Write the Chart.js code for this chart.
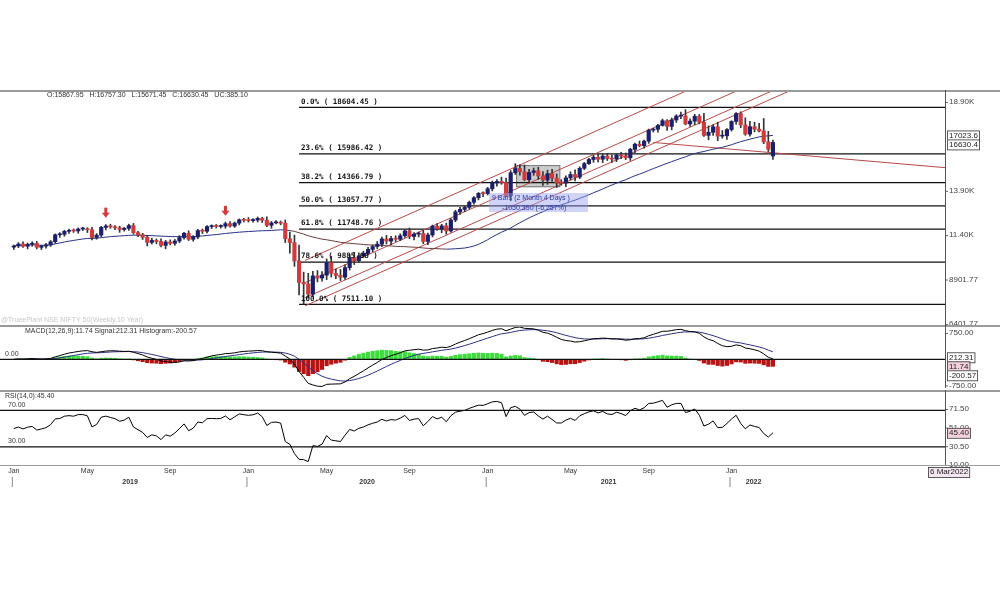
<!DOCTYPE html>
<html>
<head>
<meta charset="utf-8">
<script src="https://cdn.jsdelivr.net/npm/chart.js@4.4.0/dist/chart.umd.min.js"></script>
<style>
  body { margin: 0; background: #fff; width: 1000px; height: 600px; overflow: hidden; position: relative; }
  canvas { position: absolute; left: 0; }
</style>
</head>
<body>
<canvas id="main" width="1000" height="235" style="top:90px"></canvas>
<canvas id="macd" width="1000" height="63" style="top:325px"></canvas>
<canvas id="rsi" width="1000" height="100" style="top:390px"></canvas>
<script>
// NIFTY 50 weekly, Jan 2019 - Mar 2022
const opens = [
  10730,10795,10907,10780, 10894,10944,10724,10791, 10863,11035,11427,11456, 11624,11665,11643,11753, 11755,11712,11279,11407,11844, 11923,11871,11823,11724, 11788,11946,11552,11419, 11284,10997,11110,11048,10829, 11023,10946,11076,11274, 11512,11175,11305,11662, 11627,11890,11908,11895,11914, 12056,11922,12087,12272,
  12246,12226,12257,12352,12248, 11962,12098,12113,12080, 11202,10989,9955,8745, 8660,8084,9112,8993, 9154,9860,9251,9136,9039, 9580,10142,9972,10244, 10383,10607,10768,10902,11194, 11073,11214,11178,11372, 11647,11333,11464,11505, 11050,11417,11914,11762,11930, 11642,12263,12720,12859, 12969,13258,13513,13760,
  13749,14018,14347,14433,14372, 13634,14924,15163,14982, 14529,14938,15030,14744, 14507,14867,14617,14342,14341, 14631,14823,14677,15175, 15435,15670,15799,15683, 15860,15722,15690,15924,15856, 15763,16238,16529,16450, 16705,17324,17369,17585, 17853,17532,17895,18114,18125, 17671,17829,18102,17765, 17026,17197,17511,16985,17003,
  17354,17812,18255,17617, 17101,17516,17375,17276, 16658,15868
];
const closes = [
  10795,10907,10780,10894, 10944,10724,10791,10863, 11035,11427,11456,11624, 11665,11643,11753,11755, 11712,11279,11407,11844,11923, 11871,11823,11724,11788, 11946,11552,11419,11284, 10997,11110,11048,10829,11023, 10946,11076,11274,11512, 11175,11305,11662,11627, 11890,11908,11895,11914,12056, 11922,12087,12272,12246,
  12226,12257,12352,12248,11962, 12098,12113,12080,11202, 10989,9955,8745,8660, 8084,9112,8993,9154, 9860,9251,9136,9039,9580, 10142,9972,10244,10383, 10607,10768,10902,11194,11073, 11214,11178,11372,11647, 11333,11464,11505,11050, 11417,11914,11762,11930,11642, 12263,12720,12859,12969, 13258,13513,13760,13749,
  14018,14347,14433,14372,13634, 14924,15163,14982,14529, 14938,15030,14744,14507, 14867,14617,14342,14341,14631, 14823,14677,15175,15435, 15670,15799,15683,15860, 15722,15690,15924,15856,15763, 16238,16529,16450,16705, 17324,17369,17585,17853, 17532,17895,18114,18125,17671, 17829,18102,17765,17026, 17197,17511,16985,17003,17354,
  17812,18255,17617,17101, 17516,17375,17276,16658, 16245,16630
];
// wick length above the body / below the body, in points
const wickUp = [
  60,80,120,70, 90,110,60,80, 70,50,90,60, 80,90,60,100, 70,140,90,60,80, 100,70,90,60, 80,120,70,90, 110,130,80,150,90, 120,90,110,60, 140,80,70,90, 60,80,100,70,90, 120,60,50,80,
  150,90,80,60,190, 80,110,90,180, 380,420,900,580, 600,260,300,200, 210,360,250,340,150, 180,300,170,120, 110,90,150,110,200, 120,160,110,60, 160,90,80,170, 100,60,150,90,160, 80,90,120,80, 70,60,50,80,
  80,110,100,240,250, 120,270,200,380, 170,160,200,250, 200,250,240,190,120, 160,260,80,70, 70,110,160,100, 150,210,70,150,180, 70,70,180,60, 60,60,70,90, 60,110,80,220,350, 130,110,100,500, 360,130,260,300,60,
  40,60,100,400, 300,250,330,700, 600,127
];
const wickDn = [
  130,90,70,150, 110,90,130,110, 90,80,140,110, 120,80,130,90, 160,140,100,90,140, 80,110,160,90, 110,90,100,120, 200,90,130,80,190, 90,110,90,100, 70,110,90,130, 90,110,80,100,120, 60,80,100,90,
  80,90,110,130,80, 170,60,90,210, 600,300,700,1149, 200,150,220,180, 250,200,180,190,130, 140,220,110,90, 110,130,120,140,160, 200,130,80,90, 120,190,160,120, 180,110,90,220,180, 70,100,140,130, 90,110,120,170,
  80,120,180,100,80, 290,100,190,60, 180,160,190,300, 240,190,250,120,200, 110,220,90,80, 50,160,150,190, 110,180,140,140,100, 150,190,70,150, 130,110,160,40, 220,190,140,150,50, 140,200,90,60, 250,180,260,120,210,
  90,150,160,70, 120,150,60,100, 130,197
];

const fibPct = ['0.0%', '23.6%', '38.2%', '50.0%', '61.8%', '78.6%', '100.0%'];
const fibVal = [18604.45, 15986.42, 14366.79, 13057.77, 11748.76, 9885.08, 7511.10];
const fibStart = 62;

const monthLabels = ['Jan','May','Sep','Jan','May','Sep','Jan','May','Sep','Jan'];
const monthIdx = [0, 16, 34, 51, 68, 86, 103, 121, 138, 156];
const yearLabels = ['2019','2020','2021','2022'];
const yearIdx = [0, 51, 103, 156];

const mainTicks = [6401.77, 8901.77, 11400, 13900, 18900];
const mainTickText = ['6401.77', '8901.77', '11.40K', '13.90K', '18.90K'];
const macdTicks = [750, -750];
const rsiTicks = [71.5, 51, 30.5, 10];

// regression channel lines: [week1, price1, week2, price2]
const channels = [
  [63.3, 9982, 153.5, 20377],
  [63.3, 8733, 162, 20093],
  [63.3, 7881, 168.7, 19979],
  [63.3, 7426, 173, 20036]
];
const trendLine = [139, 16628, 202.4, 15208];
const arrowIdx = [20, 46];
const arrowPrice = [12450, 12550];

const X_MIN = -3, X_MAX = 202.4;
const upColor = '#1c1f6b', downColor = '#d23b3b';

// indicators
function sma(arr, n) {
  return arr.map((_, i) => {
    const s = arr.slice(Math.max(0, i - n + 1), i + 1);
    return s.reduce((a, b) => a + b, 0) / s.length;
  });
}
function ema(arr, n) {
  const k = 2 / (n + 1);
  let out = [], prev = arr[0];
  arr.forEach(v => { prev = v * k + prev * (1 - k); out.push(prev); });
  return out;
}
const ma40 = sma(closes, 40);
const ema12 = ema(closes, 12), ema26 = ema(closes, 26);
const macdLine = ema12.map((v, i) => v - ema26[i]);
const signalLine = ema(macdLine, 9);
const hist = macdLine.map((v, i) => v - signalLine[i]);
const rsi = (() => {
  // Wilder smoothing, seeded neutral (history before Jan 2019 not shown)
  let out = [], ag = 120, al = 120;
  closes.forEach((c, i) => {
    if (i === 0) { out.push(50); return; }
    const d = c - closes[i - 1];
    ag = (ag * 13 + Math.max(d, 0)) / 14;
    al = (al * 13 + Math.max(-d, 0)) / 14;
    out.push(100 - 100 / (1 + ag / al));
  });
  return out;
})();

const xScale = { type: 'linear', min: X_MIN, max: X_MAX, display: false, offset: false };
const baseOpts = (yMin, yMax) => ({
  responsive: false,
  animation: false,
  layout: { padding: { left: 0, right: 55, top: 0, bottom: 0 } },
  plugins: { legend: { display: false }, tooltip: { enabled: false } },
  scales: { x: xScale, y: { min: yMin, max: yMax, display: false } }
});

function frame(ctx, area, w) {
  ctx.save();
  ctx.strokeStyle = '#9a9a9a'; ctx.lineWidth = 2;
  ctx.beginPath(); ctx.moveTo(0, area.top + 1); ctx.lineTo(w, area.top + 1); ctx.stroke();
  ctx.strokeStyle = '#555'; ctx.lineWidth = 1;
  ctx.beginPath(); ctx.moveTo(area.right + 0.5, area.top); ctx.lineTo(area.right + 0.5, area.bottom); ctx.stroke();
  ctx.restore();
}
function rightLabel(ctx, chart, v, text) {
  const y = chart.scales.y.getPixelForValue(v);
  ctx.fillStyle = '#444'; ctx.font = '8px Arial'; ctx.textBaseline = 'middle'; ctx.textAlign = 'left';
  ctx.fillRect(chart.chartArea.right, y, 3, 0.8);
  ctx.fillText(text, chart.chartArea.right + 4, y);
}
function boxLabel(ctx, x, y, text, bg) {
  ctx.font = '8px Arial'; ctx.textBaseline = 'middle'; ctx.textAlign = 'left';
  const w = ctx.measureText(text).width + 3;
  ctx.fillStyle = bg; ctx.fillRect(x, y - 5, w, 10);
  ctx.strokeStyle = '#333'; ctx.lineWidth = 0.8; ctx.strokeRect(x + 0.5, y - 4.5, w, 10);
  ctx.fillStyle = '#222'; ctx.fillText(text, x + 2, y);
}

// ---------- main price panel ----------
const idx = closes.map((_, i) => i);
const mainDatasets = [
  {
    type: 'bar', grouped: false, barThickness: 1,
    data: idx.map(i => ({ x: i, y: [Math.min(opens[i], closes[i]) - wickDn[i], Math.max(opens[i], closes[i]) + wickUp[i]] })),
    backgroundColor: '#333', order: 2
  },
  {
    type: 'bar', grouped: false, barThickness: 3.5,
    data: idx.map(i => ({ x: i, y: [opens[i], closes[i]] })),
    backgroundColor: idx.map(i => closes[i] >= opens[i] ? upColor : downColor),
    minBarLength: 1, order: 1
  },
  {
    type: 'line', data: idx.map(i => ({ x: i, y: ma40[i] })),
    borderColor: '#27308a', borderWidth: 1, pointRadius: 0, order: 3,
    segment: { borderColor: c => (c.p0DataIndex >= 60 && c.p0DataIndex < 94) ? '#6b3a3a' : '#27308a' }
  }
];
fibVal.forEach(v => mainDatasets.push({
  type: 'line', data: [{ x: fibStart, y: v }, { x: X_MAX, y: v }],
  borderColor: '#111', borderWidth: 1.2, pointRadius: 0, order: 5
}));
channels.concat([trendLine]).forEach(c => mainDatasets.push({
  type: 'line', data: [{ x: c[0], y: c[1] }, { x: c[2], y: c[3] }],
  borderColor: '#b84a4a', borderWidth: 1, pointRadius: 0, order: 4
}));

const mainPlugin = {
  id: 'mainDeco',
  beforeDatasetsDraw(chart) {
    const { ctx, scales: { x, y } } = chart;
    // consolidation box
    const x1 = x.getPixelForValue(109.3), x2 = x.getPixelForValue(118.7);
    const y1 = y.getPixelForValue(15321), y2 = y.getPixelForValue(14128);
    ctx.save();
    ctx.fillStyle = 'rgba(140,140,140,0.45)'; ctx.strokeStyle = '#555'; ctx.lineWidth = 0.8;
    ctx.fillRect(x1, y1, x2 - x1, y2 - y1); ctx.strokeRect(x1, y1, x2 - x1, y2 - y1);
    ctx.restore();
  },
  afterDraw(chart) {
    const { ctx, chartArea: a, scales: { x, y } } = chart;
    ctx.save();
    frame(ctx, a, chart.width);
    ctx.fillStyle = '#333'; ctx.font = '7px Arial'; ctx.textBaseline = 'top';
    ctx.fillText('O:15867.95   H:16757.30   L:15671.45   C:16630.45   UC:385.10', 47, a.top + 2);
    ctx.font = 'bold 7.5px "DejaVu Sans Mono"'; ctx.fillStyle = '#111'; ctx.textBaseline = 'bottom';
    fibVal.forEach((v, i) => ctx.fillText(fibPct[i] + ' ( ' + v.toFixed(2) + ' )', x.getPixelForValue(fibStart) + 2, y.getPixelForValue(v) - 2));
    // measure label
    ctx.fillStyle = 'rgba(150,160,240,0.45)'; ctx.fillRect(489, 103, 99, 19);
    ctx.fillStyle = '#2a3aa0'; ctx.font = '7px Arial'; ctx.textBaseline = 'middle';
    ctx.fillText('9 Bars (2 Month 4 Days )', 492, 108); ctx.fillText('-1050.350 (-6.257%)', 502, 118);
    // arrows
    ctx.fillStyle = '#d23b3b';
    arrowIdx.forEach((ai, k) => {
      const px = x.getPixelForValue(ai), py = y.getPixelForValue(arrowPrice[k]);
      ctx.fillRect(px - 1.5, py - 9, 3, 6);
      ctx.beginPath(); ctx.moveTo(px - 4, py - 4); ctx.lineTo(px + 4, py - 4); ctx.lineTo(px, py + 1); ctx.fill();
    });
    ctx.fillStyle = '#c8c8c8'; ctx.font = '7px Arial'; ctx.textBaseline = 'bottom';
    ctx.fillText('@TrueePlant NSE NIFTY 50(Weekly,10 Year)', 1, a.bottom - 1);
    mainTicks.forEach((v, i) => rightLabel(ctx, chart, v, mainTickText[i]));
    boxLabel(ctx, a.right + 2, y.getPixelForValue(ma40[ma40.length - 1]), ma40[ma40.length - 1].toFixed(1), '#fff');
    boxLabel(ctx, a.right + 2, y.getPixelForValue(16630.45) + 2, '16630.4', '#fff');
    ctx.restore();
  }
};
new Chart(document.getElementById('main'), {
  type: 'bar',
  data: { datasets: mainDatasets },
  options: baseOpts(6347, 19582),
  plugins: [mainPlugin]
});

// ---------- MACD panel ----------
const macdPlugin = {
  id: 'macdDeco',
  afterDraw(chart) {
    const { ctx, chartArea: a, scales: { y } } = chart;
    ctx.save();
    frame(ctx, a, chart.width);
    ctx.strokeStyle = '#111'; ctx.lineWidth = 1.2;
    ctx.beginPath(); ctx.moveTo(0, y.getPixelForValue(0)); ctx.lineTo(a.right, y.getPixelForValue(0)); ctx.stroke();
    ctx.fillStyle = '#333'; ctx.font = '7px Arial'; ctx.textBaseline = 'top';
    const n = closes.length - 1;
    ctx.fillText('MACD(12,26,9):' + macdLine[n].toFixed(2) + ' Signal:' + signalLine[n].toFixed(2) + ' Histogram:' + hist[n].toFixed(2), 25, a.top + 3);
    ctx.textBaseline = 'bottom'; ctx.fillText('0.00', 5, y.getPixelForValue(0) - 2);
    macdTicks.forEach(v => rightLabel(ctx, chart, v, v.toFixed(2)));
    boxLabel(ctx, a.right + 2, y.getPixelForValue(0) - 2, signalLine[n].toFixed(2), '#fff');
    boxLabel(ctx, a.right + 2, y.getPixelForValue(0) + 7, macdLine[n].toFixed(2), '#f4d0dc');
    boxLabel(ctx, a.right + 2, y.getPixelForValue(0) + 16, hist[n].toFixed(2), '#fff');
    ctx.restore();
  }
};
new Chart(document.getElementById('macd'), {
  type: 'bar',
  data: {
    datasets: [
      {
        type: 'bar', barThickness: 3.5, grouped: false,
        data: idx.map(i => ({ x: i, y: hist[i] })),
        backgroundColor: idx.map(i => hist[i] >= 0 ? '#3ddc3d' : '#b81414'), order: 3
      },
      { type: 'line', data: idx.map(i => ({ x: i, y: macdLine[i] })), borderColor: '#000', borderWidth: 1, pointRadius: 0, order: 1 },
      { type: 'line', data: idx.map(i => ({ x: i, y: signalLine[i] })), borderColor: '#2c2f86', borderWidth: 1, pointRadius: 0, order: 2 }
    ]
  },
  options: baseOpts(-820, 980),
  plugins: [macdPlugin]
});

// ---------- RSI panel + date axis ----------
const rsiPlugin = {
  id: 'rsiDeco',
  afterDraw(chart) {
    const { ctx, chartArea: a, scales: { x, y } } = chart;
    ctx.save();
    frame(ctx, a, chart.width);
    ctx.strokeStyle = '#111'; ctx.lineWidth = 1.2;
    [70, 30].forEach(v => { ctx.beginPath(); ctx.moveTo(0, y.getPixelForValue(v)); ctx.lineTo(a.right, y.getPixelForValue(v)); ctx.stroke(); });
    ctx.fillStyle = '#333'; ctx.font = '7px Arial'; ctx.textBaseline = 'top';
    const n = closes.length - 1;
    ctx.fillText('RSI(14,0):' + rsi[n].toFixed(2), 5, a.top + 3);
    ctx.textBaseline = 'bottom';
    ctx.fillText('70.00', 8, y.getPixelForValue(70) - 2);
    ctx.fillText('30.00', 8, y.getPixelForValue(30) - 2);
    rsiTicks.forEach(v => rightLabel(ctx, chart, v, v.toFixed(2)));
    boxLabel(ctx, a.right + 2, y.getPixelForValue(rsi[n]), rsi[n].toFixed(2), '#f4d0dc');
    // date axis
    ctx.strokeStyle = '#9a9a9a'; ctx.lineWidth = 1;
    ctx.beginPath(); ctx.moveTo(0, a.bottom + 0.5); ctx.lineTo(chart.width, a.bottom + 0.5); ctx.stroke();
    ctx.fillStyle = '#333'; ctx.font = '7px Arial'; ctx.textAlign = 'center'; ctx.textBaseline = 'middle';
    monthLabels.forEach((m, i) => ctx.fillText(m, x.getPixelForValue(monthIdx[i]), a.bottom + 6));
    ctx.strokeStyle = '#888';
    yearIdx.forEach((yi, i) => {
      const px = x.getPixelForValue(yi) - 2;
      ctx.beginPath(); ctx.moveTo(px + 0.5, a.bottom + 12); ctx.lineTo(px + 0.5, a.bottom + 22); ctx.stroke();
      const nx = i + 1 < yearIdx.length ? x.getPixelForValue(yearIdx[i + 1]) : x.getPixelForValue(n + 1);
      ctx.font = 'bold 7px Arial';
      ctx.fillText(yearLabels[i], (px + nx) / 2, a.bottom + 17);
    });
    ctx.textAlign = 'left';
    boxLabel(ctx, 928, a.bottom + 7, '6 Mar2022', '#f4e6f0');
    ctx.restore();
  }
};
new Chart(document.getElementById('rsi'), {
  type: 'line',
  data: {
    datasets: [
      { data: idx.map(i => ({ x: i, y: rsi[i] })), borderColor: '#000', borderWidth: 1, pointRadius: 0 }
    ]
  },
  options: Object.assign(baseOpts(10, 92.4), { layout: { padding: { left: 0, right: 55, top: 0, bottom: 25 } } }),
  plugins: [rsiPlugin]
});
</script>
</body>
</html>
